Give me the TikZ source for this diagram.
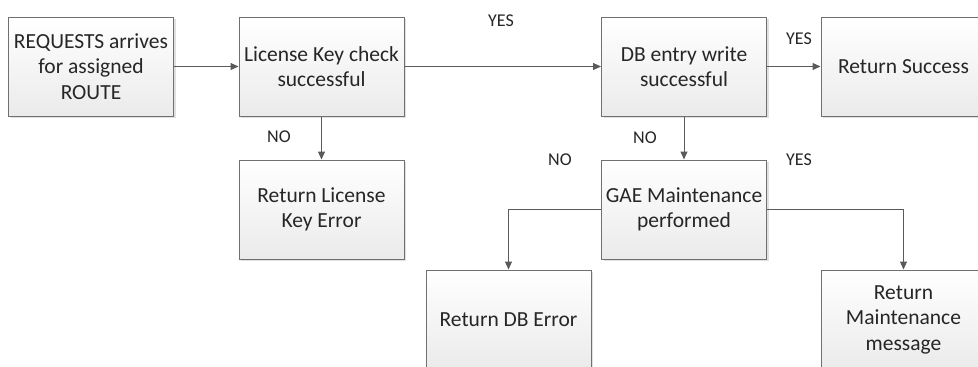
\documentclass[tikz,border=0pt]{standalone}
\usepackage{fontspec}
\setmainfont{Carlito}
\usetikzlibrary{arrows.meta,shadows}
\definecolor{edge}{HTML}{707070}
\definecolor{wire}{HTML}{5A5A5A}
\tikzset{
  box/.style={draw=edge, line width=1pt, minimum width=165pt, minimum height=99pt,
    top color=white, bottom color=black!8, align=center, inner sep=2pt,
    font=\fontsize{21.5}{25.5}\selectfont, text=black!85,
    general shadow={shadow xshift=2pt, shadow yshift=-2pt, fill=black!12}},
  conn/.style={draw=wire, line width=1pt, -{Triangle[length=8pt,width=7pt]}},
  lbl/.style={font=\fontsize{18}{21}\selectfont, text=black!85, inner sep=0pt}
}
\begin{document}
\begin{tikzpicture}[x=1pt,y=-1pt]
\useasboundingbox (0,0) rectangle (978,367);
\fill[white] (0,0) rectangle (978,367);
\clip (0,0) rectangle (978,367);
\node[box] (req) at (91,66.5) {REQUESTS arrives\\for assigned\\ROUTE};
\node[box] (lic) at (321.5,66.5) {License Key check\\successful};
\node[box] (db) at (684,66.5) {DB entry write\\successful};
\node[box] (succ) at (903.5,66.5) {Return Success};
\node[box] (licerr) at (321.5,209.5) {Return License\\Key Error};
\node[box] (gae) at (684,209.5) {GAE Maintenance\\performed};
\node[box] (dberr) at (508.5,319.5) {Return DB Error};
\node[box] (maint) at (903.5,319.5) {Return\\Maintenance\\message};
\draw[conn] (req) -- (lic);
\draw[conn] (lic) -- (db);
\draw[conn] (db) -- (succ);
\draw[conn] (lic) -- (licerr);
\draw[conn] (db) -- (gae);
\draw[conn] (gae.west) -| (dberr.north);
\draw[conn] (gae.east) -| (maint.north);
\node[lbl] (y1) at (501,21) {YES};
\node[lbl] (y2) at (799,39) {YES};
\node[lbl] (n1) at (279,137) {NO};
\node[lbl] (n2) at (645,138) {NO};
\node[lbl] (n3) at (560,160) {NO};
\node[lbl] (y3) at (799,160) {YES};
\end{tikzpicture}
\end{document}
